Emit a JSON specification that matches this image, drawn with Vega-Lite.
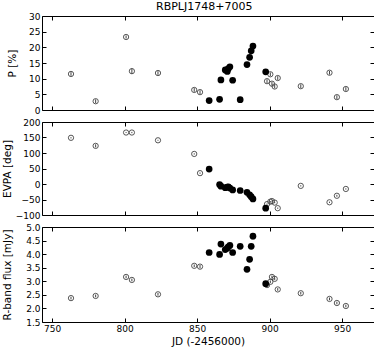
{
  "$schema": "https://vega.github.io/schema/vega-lite/v6.json",
  "padding": {"left": 1, "top": 0, "right": 5, "bottom": 0},
  "background": "white",
  "title": {"text": "RBPLJ1748+7005", "fontSize": 11, "fontWeight": "normal", "font": "DejaVu Sans", "color": "black", "offset": 0, "anchor": "middle", "dx": 16},
  "config": {
    "font": "DejaVu Sans",
    "view": {"stroke": "black", "strokeWidth": 1},
    "axis": {"domain": false, "grid": false, "tickSize": -4, "tickColor": "black", "labelPadding": 6, "labelFontSize": 9, "labelColor": "black", "titleFontSize": 10.5, "titleFontWeight": "normal", "titleColor": "black", "labelFlush": false}
  },
  "spacing": 1,
  "datasets": {
    "obs": [
      {"jd": 763, "s": "o", "p": 11.5, "pe": 0.6, "evpa": 149, "evpae": 2, "flux": 2.38, "fluxe": 0.05},
      {"jd": 780, "s": "o", "p": 2.8, "pe": 0.6, "evpa": 123, "evpae": 5, "flux": 2.46, "fluxe": 0.05},
      {"jd": 801, "s": "o", "p": 23.3, "pe": 0.5, "evpa": 166, "evpae": 1.5, "flux": 3.16, "fluxe": 0.05},
      {"jd": 805, "s": "o", "p": 12.4, "pe": 0.9, "evpa": 166, "evpae": 2, "flux": 3.05, "fluxe": 0.05},
      {"jd": 823, "s": "o", "p": 11.8, "pe": 0.6, "evpa": 141, "evpae": 1.5, "flux": 2.52, "fluxe": 0.05},
      {"jd": 848, "s": "o", "p": 6.4, "pe": 0.6, "evpa": 97, "evpae": 2, "flux": 3.57, "fluxe": 0.05},
      {"jd": 852, "s": "o", "p": 5.7, "pe": 0.6, "evpa": 35, "evpae": 2, "flux": 3.54, "fluxe": 0.06},
      {"jd": 858.3, "s": "f", "p": 3.0, "pe": 0.4, "evpa": 48, "evpae": 3, "flux": 4.06, "fluxe": 0.05},
      {"jd": 865.5, "s": "f", "p": 3.4, "pe": 0.4, "evpa": -2, "evpae": 3, "flux": 3.99, "fluxe": 0.05},
      {"jd": 866.4, "s": "f", "p": 9.6, "pe": 0.4, "evpa": -7, "evpae": 2, "flux": 4.37, "fluxe": 0.05},
      {"jd": 869.4, "s": "f", "p": 12.8, "pe": 0.4, "evpa": -12, "evpae": 2, "flux": 4.17, "fluxe": 0.05},
      {"jd": 870.8, "s": "f", "p": 12.3, "pe": 0.4, "evpa": -10, "evpae": 2, "flux": 4.22, "fluxe": 0.05},
      {"jd": 871.5, "s": "f", "p": 13.2, "pe": 0.4, "evpa": -9, "evpae": 2, "flux": 4.27, "fluxe": 0.05},
      {"jd": 872.6, "s": "f", "p": 13.8, "pe": 0.4, "evpa": -13, "evpae": 2, "flux": 4.32, "fluxe": 0.05},
      {"jd": 874.5, "s": "f", "p": 9.5, "pe": 0.4, "evpa": -19, "evpae": 2, "flux": 4.06, "fluxe": 0.05},
      {"jd": 879.7, "s": "f", "p": 3.3, "pe": 0.4, "evpa": -21, "evpae": 3, "flux": 4.29, "fluxe": 0.07},
      {"jd": 884.4, "s": "f", "p": 14.5, "pe": 0.4, "evpa": -27, "evpae": 2, "flux": 3.44, "fluxe": 0.05},
      {"jd": 886.2, "s": "f", "p": 16.8, "pe": 0.4, "evpa": -35, "evpae": 2, "flux": 3.81, "fluxe": 0.05},
      {"jd": 887.3, "s": "f", "p": 18.9, "pe": 0.4, "evpa": -41, "evpae": 2, "flux": 4.29, "fluxe": 0.08},
      {"jd": 888.5, "s": "f", "p": 20.4, "pe": 0.4, "evpa": -48, "evpae": 2, "flux": 4.66, "fluxe": 0.12},
      {"jd": 897.3, "s": "f", "p": 12.2, "pe": 0.4, "evpa": -78, "evpae": 2, "flux": 2.91, "fluxe": 0.05},
      {"jd": 898.2, "s": "o", "p": 9.2, "pe": 0.6, "evpa": -65, "evpae": 2, "flux": 2.86, "fluxe": 0.05},
      {"jd": 900.5, "s": "o", "p": 11.4, "pe": 0.6, "evpa": -57, "evpae": 2, "flux": 2.98, "fluxe": 0.05},
      {"jd": 901.6, "s": "o", "p": 8.4, "pe": 0.6, "evpa": -55, "evpae": 2, "flux": 3.16, "fluxe": 0.05},
      {"jd": 903.5, "s": "o", "p": 7.5, "pe": 0.6, "evpa": -60, "evpae": 2, "flux": 3.09, "fluxe": 0.05},
      {"jd": 905.6, "s": "o", "p": 10.2, "pe": 0.6, "evpa": -78, "evpae": 2, "flux": 2.70, "fluxe": 0.05},
      {"jd": 921.5, "s": "o", "p": 7.6, "pe": 0.6, "evpa": -6, "evpae": 2, "flux": 2.56, "fluxe": 0.05},
      {"jd": 941.3, "s": "o", "p": 11.9, "pe": 0.6, "evpa": -59, "evpae": 2, "flux": 2.35, "fluxe": 0.05},
      {"jd": 946.4, "s": "o", "p": 4.1, "pe": 0.6, "evpa": -38, "evpae": 3, "flux": 2.20, "fluxe": 0.05},
      {"jd": 952.6, "s": "o", "p": 6.7, "pe": 0.6, "evpa": -16, "evpae": 2, "flux": 2.09, "fluxe": 0.05}
    ]
  },
  "vconcat": [
    {
      "width": 332, "height": 94,
      "data": {"name": "obs"},
      "resolve": {"axis": {"x": "independent", "y": "independent"}},
      "layer": [
        {"mark": {"type": "errorbar", "color": "#444", "thickness": 1},
         "encoding": {
           "x": {"field": "jd", "type": "quantitative", "scale": {"domain": [743, 972], "nice": false}, "axis": {"values": [750, 800, 850, 900, 950], "labels": false, "title": null}},
           "y": {"field": "p", "type": "quantitative", "scale": {"domain": [0, 30], "nice": false}, "axis": {"values": [0, 5, 10, 15, 20, 25, 30], "title": "P [%]", "titleX": -25}},
           "yError": {"field": "pe"}}},
        {"transform": [{"filter": "datum.s == 'o'"}],
         "mark": {"type": "point", "shape": "circle", "filled": false, "stroke": "#444", "strokeWidth": 0.9, "size": 28, "opacity": 1},
         "encoding": {"x": {"field": "jd", "type": "quantitative", "axis": null}, "y": {"field": "p", "type": "quantitative", "axis": null}}},
        {"transform": [{"filter": "datum.s == 'f'"}],
         "mark": {"type": "point", "shape": "circle", "filled": true, "color": "black", "size": 45, "opacity": 1},
         "encoding": {"x": {"field": "jd", "type": "quantitative", "axis": null}, "y": {"field": "p", "type": "quantitative", "axis": null}}},
        {"mark": {"type": "point", "opacity": 0},
         "encoding": {"x": {"field": "jd", "type": "quantitative", "axis": {"orient": "top", "values": [750, 800, 850, 900, 950], "labels": false, "title": null}}, "y": {"field": "p", "type": "quantitative", "axis": {"orient": "right", "values": [0, 5, 10, 15, 20, 25, 30], "labels": false, "title": null}}}}
      ]
    },
    {
      "width": 332, "height": 93,
      "data": {"name": "obs"},
      "resolve": {"axis": {"x": "independent", "y": "independent"}},
      "layer": [
        {"mark": {"type": "errorbar", "color": "#444", "thickness": 1},
         "encoding": {
           "x": {"field": "jd", "type": "quantitative", "scale": {"domain": [743, 972], "nice": false}, "axis": {"values": [750, 800, 850, 900, 950], "labels": false, "title": null}},
           "y": {"field": "evpa", "type": "quantitative", "scale": {"domain": [-100, 200], "nice": false}, "axis": {"values": [-100, -50, 0, 50, 100, 150, 200], "title": "EVPA [deg]", "titleX": -30}},
           "yError": {"field": "evpae"}}},
        {"transform": [{"filter": "datum.s == 'o'"}],
         "mark": {"type": "point", "shape": "circle", "filled": false, "stroke": "#444", "strokeWidth": 0.9, "size": 28, "opacity": 1},
         "encoding": {"x": {"field": "jd", "type": "quantitative", "axis": null}, "y": {"field": "evpa", "type": "quantitative", "axis": null}}},
        {"transform": [{"filter": "datum.s == 'f'"}],
         "mark": {"type": "point", "shape": "circle", "filled": true, "color": "black", "size": 45, "opacity": 1},
         "encoding": {"x": {"field": "jd", "type": "quantitative", "axis": null}, "y": {"field": "evpa", "type": "quantitative", "axis": null}}},
        {"mark": {"type": "point", "opacity": 0},
         "encoding": {"x": {"field": "jd", "type": "quantitative", "axis": {"orient": "top", "values": [750, 800, 850, 900, 950], "labels": false, "title": null}}, "y": {"field": "evpa", "type": "quantitative", "axis": {"orient": "right", "values": [-100, -50, 0, 50, 100, 150, 200], "labels": false, "title": null}}}}
      ]
    },
    {
      "width": 332, "height": 95,
      "data": {"name": "obs"},
      "resolve": {"axis": {"x": "independent", "y": "independent"}},
      "layer": [
        {"mark": {"type": "errorbar", "color": "#444", "thickness": 1},
         "encoding": {
           "x": {"field": "jd", "type": "quantitative", "scale": {"domain": [743, 972], "nice": false}, "axis": {"values": [750, 800, 850, 900, 950], "title": "JD (-2456000)", "titlePadding": 3}},
           "y": {"field": "flux", "type": "quantitative", "scale": {"domain": [1.5, 5.0], "nice": false}, "axis": {"values": [1.5, 2.0, 2.5, 3.0, 3.5, 4.0, 4.5, 5.0], "format": ".1f", "title": "R-band flux [mJy]", "titleX": -30}},
           "yError": {"field": "fluxe"}}},
        {"transform": [{"filter": "datum.s == 'o'"}],
         "mark": {"type": "point", "shape": "circle", "filled": false, "stroke": "#444", "strokeWidth": 0.9, "size": 28, "opacity": 1},
         "encoding": {"x": {"field": "jd", "type": "quantitative", "axis": null}, "y": {"field": "flux", "type": "quantitative", "axis": null}}},
        {"transform": [{"filter": "datum.s == 'f'"}],
         "mark": {"type": "point", "shape": "circle", "filled": true, "color": "black", "size": 45, "opacity": 1},
         "encoding": {"x": {"field": "jd", "type": "quantitative", "axis": null}, "y": {"field": "flux", "type": "quantitative", "axis": null}}},
        {"mark": {"type": "point", "opacity": 0},
         "encoding": {"x": {"field": "jd", "type": "quantitative", "axis": {"orient": "top", "values": [750, 800, 850, 900, 950], "labels": false, "title": null}}, "y": {"field": "flux", "type": "quantitative", "axis": {"orient": "right", "values": [1.5, 2.0, 2.5, 3.0, 3.5, 4.0, 4.5, 5.0], "labels": false, "title": null}}}}
      ]
    }
  ]
}
